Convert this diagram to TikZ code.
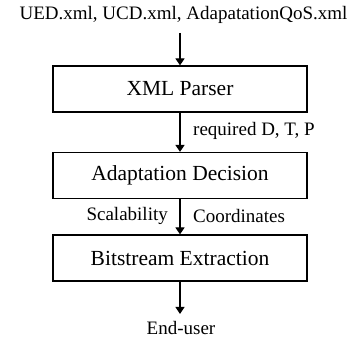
\documentclass[tikz,border=0pt]{standalone}
\usepackage{fontspec}
\setmainfont{Liberation Serif}
\usetikzlibrary{arrows.meta}
\begin{document}
\begin{tikzpicture}[x=1pt,y=-1pt,
  blk/.style={draw,line width=1.2pt,minimum width=254pt,minimum height=46pt,inner sep=0pt,font=\fontsize{21.5}{24}\selectfont},
  lbl/.style={inner sep=0pt,font=\fontsize{19}{22}\selectfont},
  arr/.style={line width=1.2pt,-{Triangle[width=9pt,length=7pt]}}]
\useasboundingbox (0,0) rectangle (354,339);
\node[lbl] (in) at (183.5,15) {UED.xml, UCD.xml, AdapatationQoS.xml};
\coordinate (inb) at (180,33);
\node[blk] (xml) at (180,89) {XML Parser};
\node[blk] (ad) at (180,175.5) {Adaptation Decision};
\node[blk] (be) at (180,258) {Bitstream Extraction};
\node[lbl] (out) at (181,328) {End-user};
\coordinate (outt) at (180,314);
\draw[arr] (inb) -- (xml.north -| inb);
\draw[arr] (xml.south) -- (ad.north);
\draw[arr] (ad.south) -- (be.north);
\draw[arr] (be.south) -- (outt);
\node[lbl,anchor=west] (req) at (193,131) {required D, T, P};
\node[lbl,anchor=east] (sc) at (168,216) {Scalability};
\node[lbl,anchor=west] (co) at (193,216) {Coordinates};
\end{tikzpicture}
\end{document}
